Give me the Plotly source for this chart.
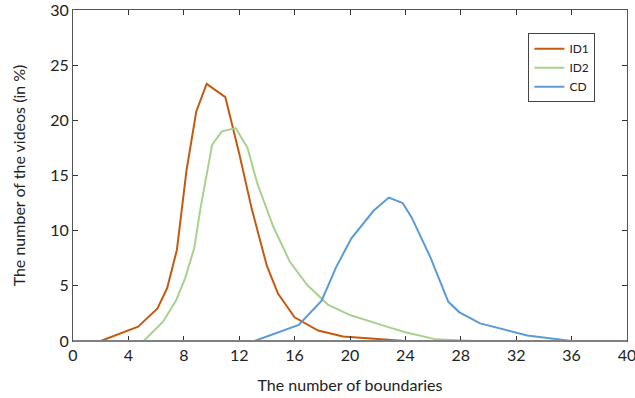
import plotly.graph_objects as go

id1_x = [2.0, 4.7, 6.1, 6.8, 7.5, 8.2, 8.9, 9.65, 11.0, 12.0, 12.9, 14.0, 14.8, 16.0, 17.7, 19.5, 24.0]
id1_y = [0.0, 1.3, 2.95, 4.8, 8.25, 15.5, 20.8, 23.3, 22.1, 17.0, 12.0, 6.8, 4.3, 2.15, 0.95, 0.4, 0.0]

id2_x = [5.1, 6.5, 7.45, 8.1, 8.75, 9.2, 10.05, 10.75, 11.75, 12.6, 13.3, 14.45, 15.65, 16.9, 18.4, 20.0, 22.65, 24.0, 26.2, 29.0]
id2_y = [0.0, 1.75, 3.7, 5.7, 8.4, 12.0, 17.8, 19.0, 19.3, 17.5, 14.3, 10.4, 7.2, 5.1, 3.3, 2.35, 1.3, 0.8, 0.15, 0.0]

cd_x = [13.1, 16.3, 17.95, 19.0, 20.1, 21.7, 22.8, 23.8, 24.45, 25.8, 27.1, 27.9, 29.4, 31.3, 32.8, 36.0, 37.0]
cd_y = [0.0, 1.45, 3.65, 6.7, 9.3, 11.8, 13.0, 12.5, 11.2, 7.6, 3.55, 2.6, 1.6, 1.0, 0.5, 0.0, 0.0]

x_ticks = [0, 4, 8, 12, 16, 20, 24, 28, 32, 36, 40]
y_ticks = [0, 5, 10, 15, 20, 25, 30]

FONT = "Lato, Carlito, Calibri, sans-serif"

fig = go.Figure()
fig.add_trace(go.Scatter(x=id1_x, y=id1_y, mode="lines", name="ID1",
                         line=dict(color="#C55A11", width=2)))
fig.add_trace(go.Scatter(x=id2_x, y=id2_y, mode="lines", name="ID2",
                         line=dict(color="#A9D18E", width=2)))
fig.add_trace(go.Scatter(x=cd_x, y=cd_y, mode="lines", name="CD",
                         line=dict(color="#5B9BD5", width=2)))

fig.update_layout(
    width=635, height=398,
    margin=dict(l=73, r=8, t=10, b=57, autoexpand=False),
    plot_bgcolor="white", paper_bgcolor="white",
    font=dict(family=FONT, size=16, color="#222222"),
    showlegend=True,
    legend=dict(x=0.822, y=0.93, xanchor="left", yanchor="top",
                bgcolor="white", bordercolor="#444444", borderwidth=1,
                font=dict(family=FONT, size=12, color="#222222"),
                itemwidth=30, tracegroupgap=0, entrywidth=40),
    xaxis=dict(range=[0, 40], tickvals=x_ticks, ticks="inside", ticklen=5,
               tickcolor="#333333", showline=True, linecolor="#555555",
               linewidth=1, mirror="ticks", showgrid=False, zeroline=False,
               automargin=False, ticklabeloverflow="allow",
               title=dict(text="The number of boundaries", standoff=16,
                          font=dict(family=FONT, size=16)),
               tickfont=dict(family=FONT, size=16)),
    yaxis=dict(range=[0, 30], tickvals=y_ticks, ticks="inside", ticklen=5,
               tickcolor="#333333", showline=True, linecolor="#555555",
               linewidth=1, mirror="ticks", showgrid=False, zeroline=False,
               automargin=False, ticklabeloverflow="allow",
               title=dict(text="The number of the videos (in %)", standoff=20,
                          font=dict(family=FONT, size=16)),
               tickfont=dict(family=FONT, size=16)),
)
# gray bottom baseline
fig.add_shape(type="line", xref="paper", yref="paper", x0=0, x1=1, y0=0, y1=0,
              line=dict(color="#808080", width=2))

fig.write_html("out.html", config={"displayModeBar": False},
               post_script="document.body.style.margin='0px';")
